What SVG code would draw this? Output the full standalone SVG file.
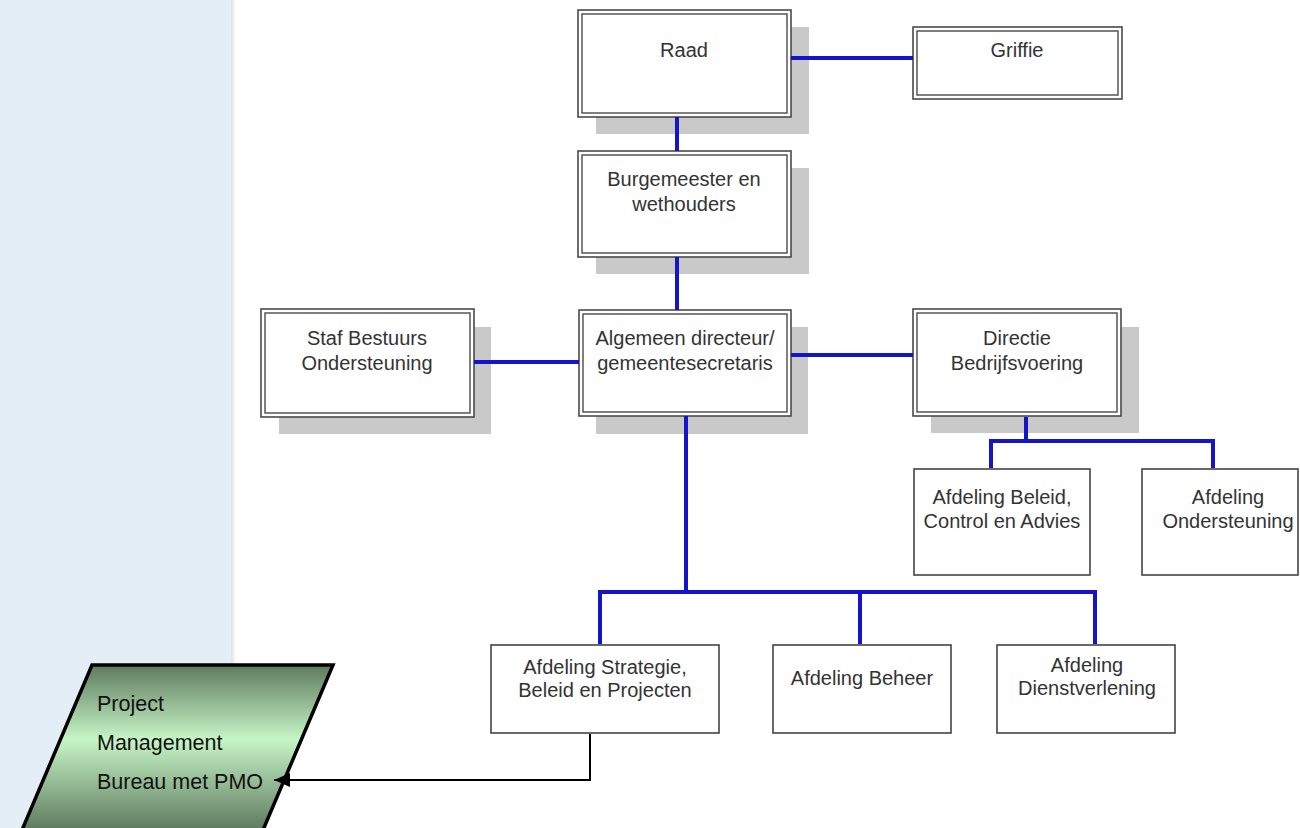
<svg xmlns="http://www.w3.org/2000/svg" width="1300" height="828" viewBox="0 0 1300 828">
<defs>
<linearGradient id="pmoGrad" x1="0" y1="0" x2="0" y2="1">
<stop offset="0" stop-color="#5f7a5f"/>
<stop offset="0.45" stop-color="#c6f5c6"/>
<stop offset="1" stop-color="#5f7a5f"/>
</linearGradient>
<linearGradient id="edge" x1="0" y1="0" x2="1" y2="0">
<stop offset="0" stop-color="#e0e0e0"/>
<stop offset="1" stop-color="#ffffff"/>
</linearGradient>
<marker id="arrow" viewBox="0 0 16 14" refX="16" refY="7" markerWidth="16" markerHeight="14" markerUnits="userSpaceOnUse" orient="auto">
<path d="M0,0 L16,7 L0,14 z" fill="#000"/>
</marker>
<style>
.t{font-family:"Liberation Sans",Arial,sans-serif;font-size:20px;fill:#333;text-anchor:middle}
.pt{font-family:"Liberation Sans",Arial,sans-serif;font-size:21.5px;fill:#111}
.sh{fill:#c9c9c9}
.ob{fill:#fff;stroke:#4a4a4a;stroke-width:1.6}
.ib{fill:none;stroke:#4a4a4a;stroke-width:1.4}
.sb{fill:#fff;stroke:#444;stroke-width:1.6}
.bl{fill:none;stroke:#1414c8;stroke-width:4}
</style>
</defs>
<rect x="0" y="0" width="1300" height="828" fill="#fff"/>
<rect x="0" y="0" width="231" height="828" fill="#e4eef7"/>
<rect x="231" y="0" width="5" height="828" fill="url(#edge)"/>

<g id="raad">
<rect class="sh" x="596" y="27" width="213" height="107"/>
<rect class="ob" x="578" y="10" width="213" height="107"/>
<rect class="ib" x="582" y="14" width="205" height="99"/>
<text class="t" x="684" y="57">Raad</text>
</g>
<g id="griffie">
<rect class="ob" x="913" y="27" width="209" height="72"/>
<rect class="ib" x="917" y="31" width="201" height="64"/>
<text class="t" x="1017" y="57">Griffie</text>
</g>
<g id="burgemeester">
<rect class="sh" x="596" y="168" width="213" height="106"/>
<rect class="ob" x="578" y="151" width="213" height="106"/>
<rect class="ib" x="582" y="155" width="205" height="98"/>
<text class="t" x="684" y="186">Burgemeester en</text>
<text class="t" x="684" y="211">wethouders</text>
</g>
<g id="staf">
<rect class="sh" x="279" y="327" width="212" height="107"/>
<rect class="ob" x="261" y="309" width="213" height="108"/>
<rect class="ib" x="265" y="313" width="205" height="100"/>
<text class="t" x="367" y="345">Staf Bestuurs</text>
<text class="t" x="367" y="370">Ondersteuning</text>
</g>
<g id="algemeen">
<rect class="sh" x="596" y="327" width="212" height="107"/>
<rect class="ob" x="579" y="310" width="212" height="106"/>
<rect class="ib" x="583" y="314" width="204" height="98"/>
<text class="t" x="685" y="345">Algemeen directeur/</text>
<text class="t" x="685" y="370">gemeentesecretaris</text>
</g>
<g id="directie">
<rect class="sh" x="931" y="327" width="208" height="106"/>
<rect class="ob" x="913" y="309" width="208" height="107"/>
<rect class="ib" x="917" y="313" width="200" height="99"/>
<text class="t" x="1017" y="345">Directie</text>
<text class="t" x="1017" y="370">Bedrijfsvoering</text>
</g>
<g id="beleid">
<rect class="sb" x="914" y="469" width="176" height="106"/>
<text class="t" x="1002" y="504">Afdeling Beleid,</text>
<text class="t" x="1002" y="528">Control en Advies</text>
</g>
<g id="ondersteuning">
<rect class="sb" x="1142" y="469" width="156" height="106"/>
<text class="t" x="1228" y="504">Afdeling</text>
<text class="t" x="1228" y="528">Ondersteuning</text>
</g>
<g id="strategie">
<rect class="sb" x="491" y="645" width="228" height="88"/>
<text class="t" x="605" y="674">Afdeling Strategie,</text>
<text class="t" x="605" y="697">Beleid en Projecten</text>
</g>
<g id="beheer">
<rect class="sb" x="773" y="645" width="178" height="88"/>
<text class="t" x="862" y="685">Afdeling Beheer</text>
</g>
<g id="dienstverlening">
<rect class="sb" x="997" y="645" width="178" height="88"/>
<text class="t" x="1087" y="672">Afdeling</text>
<text class="t" x="1087" y="695">Dienstverlening</text>
</g>
<g id="pmo">
<polygon points="92,665 333,665 263,830 22,830" fill="url(#pmoGrad)" stroke="#000" stroke-width="3.5"/>
<text class="pt" x="97" y="711">Project</text>
<text class="pt" x="97" y="750">Management</text>
<text class="pt" x="97" y="789">Bureau met PMO</text>
</g>

<g id="connectors">
<line class="bl" x1="791" y1="58" x2="913" y2="58"/>
<line class="bl" x1="677" y1="117" x2="677" y2="151"/>
<line class="bl" x1="677" y1="257" x2="677" y2="310"/>
<line class="bl" x1="474" y1="362" x2="579" y2="362"/>
<line class="bl" x1="791" y1="355" x2="913" y2="355"/>
<polyline class="bl" points="686,416 686,592"/>
<polyline class="bl" points="600,644 600,592 1095,592 1095,644"/>
<line class="bl" x1="860" y1="592" x2="860" y2="644"/>
<line class="bl" x1="1026" y1="417" x2="1026" y2="441"/>
<polyline class="bl" points="991,468 991,441 1213,441 1213,468"/>
<polyline points="590,734 590,780 274,780" fill="none" stroke="#000" stroke-width="2" marker-end="url(#arrow)"/>
</g>
</svg>
